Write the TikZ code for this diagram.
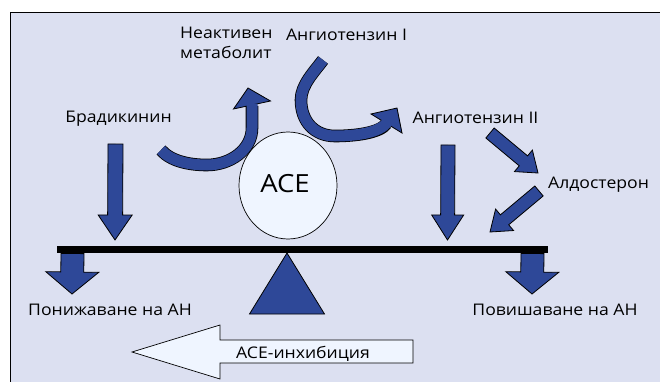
\documentclass[tikz,border=0pt]{standalone}
\usepackage{fontspec}
\setmainfont[Language=Bulgarian, FakeStretch=1.1]{Open Sans}
\usetikzlibrary{calc}
\definecolor{bgc}{HTML}{DCE0F1}
\definecolor{arrc}{HTML}{2E4898}
\definecolor{lightf}{HTML}{EFF5FF}
\tikzset{
  lbl/.style={inner sep=0pt, font=\fontsize{16}{20}\selectfont, anchor=base},
  blk/.style={fill=arrc, draw=black, line width=0.8pt, line join=miter},
}
% block arrow: #1 tail, #2 tip, #3 shaft half width, #4 head half width, #5 head length
\newcommand{\blockarr}[5]{%
  \coordinate (h) at ($(#2)!#5!(#1)$);
  \draw[blk] ($(#1)!#3!90:(#2)$) -- ($(h)!#3!-90:(#1)$) -- ($(h)!#4!-90:(#1)$) -- (#2)
    -- ($(h)!#4!90:(#1)$) -- ($(h)!#3!90:(#1)$) -- ($(#1)!#3!-90:(#2)$) -- cycle;
}
\begin{document}
\begin{tikzpicture}[x=1pt,y=-1pt]
\useasboundingbox (0,0) rectangle (660,382);
\fill[white] (0,0) rectangle (660,382);
\draw[fill=bgc, line width=0.9pt] (10,12) rectangle (670,392);

% labels
\node[lbl] (brad) at (118.5,123) {Брадикинин};
\node[lbl, anchor=base west, align=left] (metab) at (180,59) {Неактивен\\метаболит};
\node[lbl] (ang1) at (346.5,41) {Ангиотензин I};
\node[lbl] (ang2) at (475.5,124) {Ангиотензин II};
\node[lbl, anchor=base west] (aldo) at (548,188) {Алдостерон};
\node[lbl] (down) at (110,315.5) {Понижаване на АН};
\node[lbl] (up) at (555,315.5) {Повишаване на АН};

% ACE circle
\draw[fill=lightf, line width=0.7pt] (288,185.5) ellipse [x radius=49, y radius=53.5];
\node[inner sep=0pt, anchor=base, font=\fontsize{25}{30}\selectfont] (ace) at (285,192) {ACE};

% beam and fulcrum
\fill[black] (57,246) rectangle (548,253);
\draw[blk] (287,253) -- (324.5,314) -- (249.5,314) -- cycle;

% straight block arrows
\coordinate (a1t) at (115.5,144); \coordinate (a1h) at (115,240);
\blockarr{a1t}{a1h}{7.5pt}{17pt}{25pt}
\coordinate (a2t) at (448,145); \coordinate (a2h) at (447.5,240);
\blockarr{a2t}{a2h}{7pt}{16pt}{25pt}
\coordinate (a3t) at (72.5,253.5); \coordinate (a3h) at (72,294);
\blockarr{a3t}{a3h}{11.5pt}{26.5pt}{22pt}
\coordinate (a4t) at (532.5,253.5); \coordinate (a4h) at (532,294);
\blockarr{a4t}{a4h}{11.5pt}{26.5pt}{22pt}
\coordinate (a5t) at (490,133); \coordinate (a5h) at (538,173);
\blockarr{a5t}{a5h}{6.5pt}{14pt}{19pt}
\coordinate (a6t) at (539,191); \coordinate (a6h) at (490,232);
\blockarr{a6t}{a6h}{6.5pt}{14pt}{19pt}

% curved arrow 1: bradykinin -> inactive metabolite
\draw[black, line width=12.6pt] (161,150) .. controls (171,161.5) and (190,165) .. (207,165)
  .. controls (230,165) and (252,150) .. (252,128) -- (252,106);
\draw[blk] (233.5,109) -- (248,88) -- (270.5,101) -- cycle;
\draw[arrc, line width=11pt] (161,150) .. controls (171,161.5) and (190,165) .. (207,165)
  .. controls (230,165) and (252,150) .. (252,128) -- (252,104);

% curved arrow 2: angiotensin I -> angiotensin II
\draw[black, line width=12.6pt] (323,60) .. controls (314,72) and (301,85) .. (301,100)
  .. controls (301,122) and (315,136) .. (335,136)
  .. controls (355,136) and (380,133) .. (386.5,123.5);
\draw[blk] (371,114) -- (397,108) -- (402,133) -- cycle;
\draw[arrc, line width=11pt] (323,60) .. controls (314,72) and (301,85) .. (301,100)
  .. controls (301,122) and (315,136) .. (335,136)
  .. controls (355,136) and (380,133) .. (387.5,122);

% ACE inhibition block arrow
\draw[fill=lightf, line width=0.7pt] (132,352) -- (220,325) -- (220,340) -- (413,340)
  -- (413,363) -- (220,363) -- (220,379) -- cycle;
\node[lbl] (inh) at (303,358) {ACE-инхибиция};
\end{tikzpicture}
\end{document}
